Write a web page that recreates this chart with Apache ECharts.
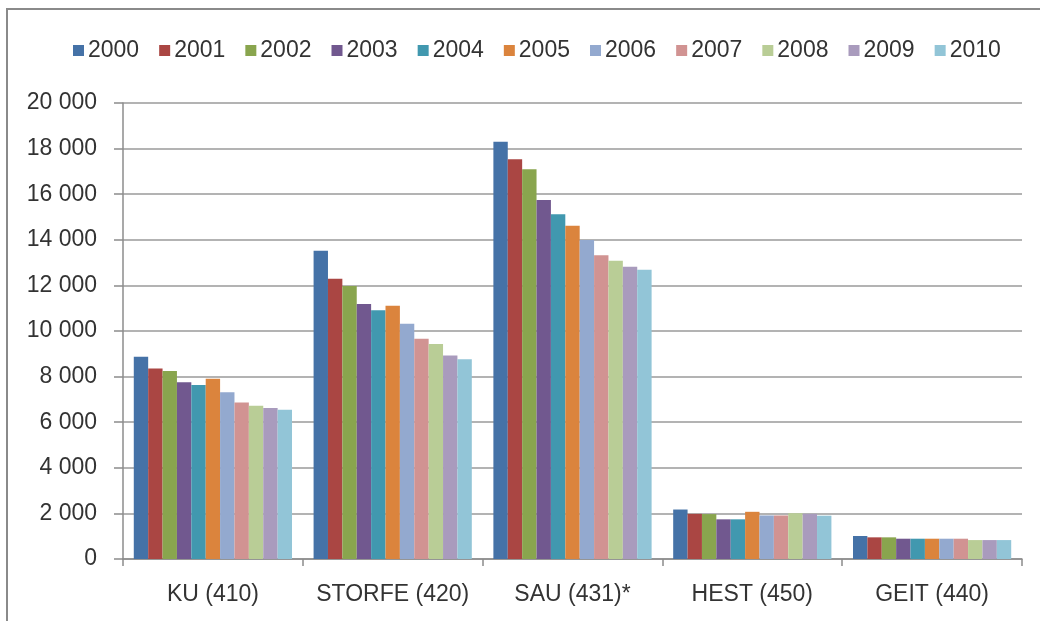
<!DOCTYPE html>
<html><head><meta charset="utf-8">
<script src="https://cdn.jsdelivr.net/npm/echarts@6/dist/echarts.min.js"></script>
<style>html,body{margin:0;padding:0;background:#fff}#c{width:1040px;height:621px}</style>
</head><body><div id="c"></div>
<script>
const categories = ['KU (410)', 'STORFE (420)', 'SAU (431)*', 'HEST (450)', 'GEIT (440)'];
const years = ['2000','2001','2002','2003','2004','2005','2006','2007','2008','2009','2010'];
const colors = ['#4572A7','#AA4643','#89A54E','#71588F','#4198AF','#DB843D','#93A9CF','#D19392','#B9CD96','#A99BBD','#92C5D7'];
const yTicks = [0, 2000, 4000, 6000, 8000, 10000, 12000, 14000, 16000, 18000, 20000];
// values per year: [KU, STORFE, SAU, HEST, GEIT]
const v2000 = [8870, 13520, 18300, 2170, 1010];
const v2001 = [8360, 12290, 17530, 1980, 950];
const v2002 = [8250, 11970, 17090, 1970, 950];
const v2003 = [7750, 11180, 15750, 1740, 890];
const v2004 = [7630, 10910, 15120, 1740, 890];
const v2005 = [7910, 11110, 14620, 2070, 890];
const v2006 = [7310, 10320, 13990, 1910, 890];
const v2007 = [6860, 9660, 13320, 1910, 890];
const v2008 = [6720, 9430, 13080, 2010, 830];
const v2009 = [6620, 8920, 12820, 1980, 830];
const v2010 = [6550, 8760, 12690, 1900, 830];
const values = [v2000, v2001, v2002, v2003, v2004, v2005, v2006, v2007, v2008, v2009, v2010];

const font = 'Liberation Sans';
const chart = echarts.init(document.getElementById('c'), null, {renderer: 'canvas'});
chart.setOption({
  animation: false,
  color: colors,
  textStyle: {fontFamily: font},
  graphic: [{
    type: 'rect', shape: {x: 7, y: 9, width: 1100, height: 700},
    style: {fill: 'none', stroke: '#8a8a8a', lineWidth: 2}, silent: true
  }],
  legend: {
    data: years, left: 68, top: 34, itemWidth: 11, itemHeight: 11, itemGap: 20,
    icon: 'rect', textStyle: {fontSize: 23, color: '#333', fontFamily: font, padding: [0,0,0,-1]}
  },
  grid: {left: 123, right: 18, top: 103, bottom: 62},
  xAxis: {
    type: 'category', data: categories,
    axisLine: {lineStyle: {color: '#8c8c8c', width: 1.5}},
    axisTick: {show: true, length: 7, alignWithLabel: false, lineStyle: {color: '#8c8c8c', width: 1.5}},
    axisLabel: {interval: 0, fontSize: 23, color: '#333', margin: 24, fontFamily: font}
  },
  yAxis: {
    type: 'value', min: 0, max: 20000, interval: 2000,
    axisLine: {show: true, lineStyle: {color: '#8c8c8c', width: 1.5}},
    axisTick: {show: true, length: 9, lineStyle: {color: '#8c8c8c', width: 1.5}},
    splitLine: {lineStyle: {color: '#9a9a9a', width: 1.5}},
    axisLabel: {
      fontSize: 23, color: '#333', margin: 26, fontFamily: font,
      formatter: v => yTicks.includes(v) ? String(v).replace(/\B(?=(\d{3})+(?!\d))/g, ' ') : ''
    }
  },
  series: years.map((y, i) => ({
    name: y, type: 'bar', data: values[i],
    barGap: '0%', barCategoryGap: '12%',
    itemStyle: {color: colors[i]}
  }))
});
</script></body></html>
